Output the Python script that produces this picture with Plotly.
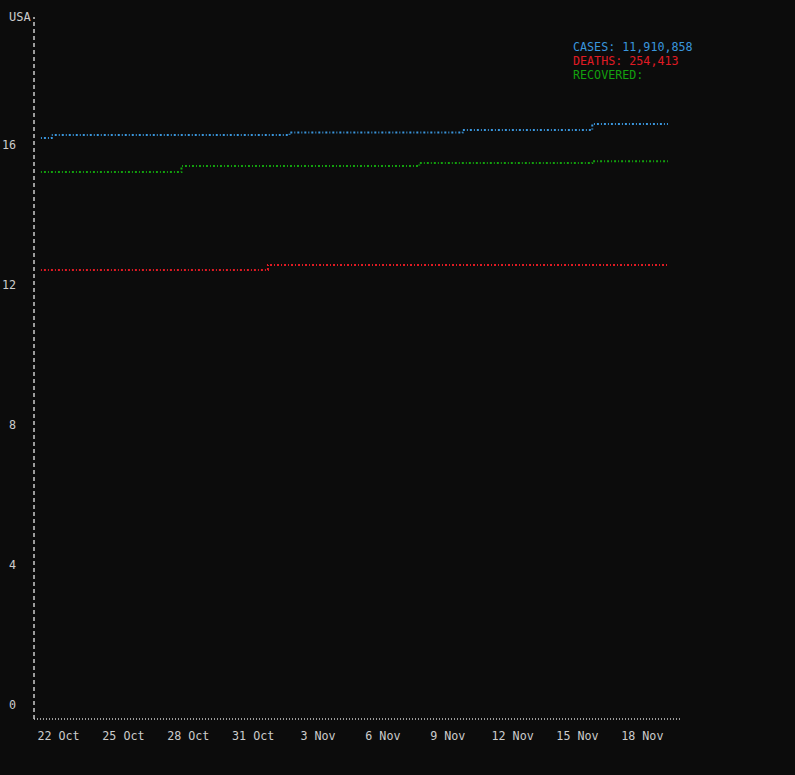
import plotly.graph_objects as go

# ---- data (y = natural log of counts) ----
dates = [
    "2020-10-21", "2020-10-22", "2020-10-23", "2020-10-24", "2020-10-25",
    "2020-10-26", "2020-10-27", "2020-10-28", "2020-10-29", "2020-10-30",
    "2020-10-31", "2020-11-01", "2020-11-02", "2020-11-03", "2020-11-04",
    "2020-11-05", "2020-11-06", "2020-11-07", "2020-11-08", "2020-11-09",
    "2020-11-10", "2020-11-11", "2020-11-12", "2020-11-13", "2020-11-14",
    "2020-11-15", "2020-11-16", "2020-11-17", "2020-11-18", "2020-11-19",
]
cases_log = [
    16.20, 16.29, 16.29, 16.29, 16.29, 16.29, 16.29, 16.29, 16.29, 16.29,
    16.29, 16.29, 16.36, 16.36, 16.36, 16.36, 16.36, 16.36, 16.36, 16.36,
    16.43, 16.43, 16.43, 16.43, 16.43, 16.43, 16.60, 16.60, 16.60, 16.60,
]
deaths_log = [
    12.43, 12.43, 12.43, 12.43, 12.43, 12.43, 12.43, 12.43, 12.43, 12.43,
    12.43, 12.57, 12.57, 12.57, 12.57, 12.57, 12.57, 12.57, 12.57, 12.57,
    12.57, 12.57, 12.57, 12.57, 12.57, 12.57, 12.57, 12.57, 12.57, 12.57,
]
recovered_log = [
    15.23, 15.23, 15.23, 15.23, 15.23, 15.23, 15.23, 15.40, 15.40, 15.40,
    15.40, 15.40, 15.40, 15.40, 15.40, 15.40, 15.40, 15.40, 15.49, 15.49,
    15.49, 15.49, 15.49, 15.49, 15.49, 15.49, 15.54, 15.54, 15.54, 15.54,
]

country = "USA"
total_cases = "11,910,858"
total_deaths = "254,413"
total_recovered = ""

x_tick_vals = ["2020-10-22", "2020-10-25", "2020-10-28", "2020-10-31", "2020-11-03",
               "2020-11-06", "2020-11-09", "2020-11-12", "2020-11-15", "2020-11-18"]
x_tick_text = ["22 Oct", "25 Oct", "28 Oct", "31 Oct", "3 Nov",
               "6 Nov", "9 Nov", "12 Nov", "15 Nov", "18 Nov"]
y_tick_vals = [0, 4, 8, 12, 16]
y_tick_text = ["0", "4", "8", "12", "16"]

BG = "#0c0c0c"
FG = "#cccccc"
C_CASES = "#3a96dd"
C_DEATHS = "#e01b24"
C_RECOV = "#13a10e"
FONT = "DejaVu Sans Mono"
DASH = "1px,2px,2px,2px"

fig = go.Figure()
for y, c in [(cases_log, C_CASES), (recovered_log, C_RECOV), (deaths_log, C_DEATHS)]:
    fig.add_trace(go.Scatter(
        x=dates, y=y, mode="lines",
        line=dict(color=c, width=2, dash=DASH, shape="hvh"),
        showlegend=False, hoverinfo="skip",
    ))

# dotted axis lines
fig.add_shape(type="line", xref="paper", yref="paper", x0=0, x1=0, y0=0, y1=1,
              line=dict(color=FG, width=1.5, dash="4px,3px"))
fig.add_shape(type="line", xref="paper", yref="paper", x0=0, x1=1, y0=0, y1=0,
              line=dict(color=FG, width=1.5, dash="1px,2px"))

fig.add_annotation(text=country, xref="paper", yref="paper", x=0, y=1,
                   xanchor="right", yanchor="middle", xshift=-1, showarrow=False,
                   font=dict(family=FONT, size=12, color=FG))

legend_rows = [
    ("CASES: " + total_cases, C_CASES),
    ("DEATHS: " + total_deaths, C_DEATHS),
    ("RECOVERED: " + total_recovered, C_RECOV),
]
for i, (txt, col) in enumerate(legend_rows):
    fig.add_annotation(text=txt, xref="paper", yref="paper",
                       x=(571 - 34) / 648, y=(719 - (47 + 14 * i)) / 702,
                       xanchor="left", yanchor="middle", showarrow=False,
                       font=dict(family=FONT, size=11.7, color=col))

fig.update_layout(
    width=795, height=775,
    margin=dict(l=34, r=113, t=17, b=56),
    paper_bgcolor=BG, plot_bgcolor=BG,
    font=dict(family=FONT, size=11.7, color=FG),
    xaxis=dict(
        type="date",
        range=["2020-10-20 16:19", "2020-11-19 15:36"],
        tickvals=x_tick_vals, ticktext=x_tick_text,
        showgrid=False, zeroline=False, showline=False, ticks="",
        ticklabelstandoff=8, ticklabelshift=-4, automargin=False,
        tickfont=dict(family=FONT, size=11.7, color=FG),
    ),
    yaxis=dict(
        range=[-0.4, 19.66],
        tickvals=y_tick_vals, ticktext=y_tick_text,
        showgrid=False, zeroline=False, showline=False, ticks="",
        ticklabelstandoff=17, automargin=False,
        tickfont=dict(family=FONT, size=11.7, color=FG),
    ),
)

fig.write_html(
    "out.html",
    config={"displayModeBar": False},
    post_script="document.body.style.margin='0';document.body.style.overflow='hidden';"
                "document.body.style.background='#0c0c0c';",
)
